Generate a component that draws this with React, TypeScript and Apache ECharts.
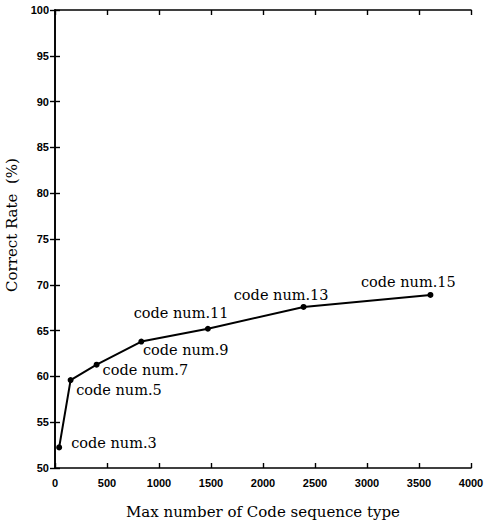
import React, { useEffect, useRef } from "react";
import * as echarts from "echarts";

const codeLabels = ["code num.3", "code num.5", "code num.7", "code num.9", "code num.11", "code num.13", "code num.15"];
const xValues = [40, 150, 400, 830, 1470, 2390, 3610];
const yValues = [52.25, 59.6, 61.28, 63.8, 65.2, 67.58, 68.89];
const xTicks = { min: 0, max: 4000, interval: 500 };
const yTicks = { min: 50, max: 100, interval: 5 };

// label placement relative to each point's symbol box (layout, not data)
const labelLayout: { pos: [number, number]; align: string }[] = [
  { pos: [15, -1], align: "left" },
  { pos: [8.6, 13.4], align: "left" },
  { pos: [9, 8.7], align: "left" },
  { pos: [4.6, 11], align: "left" },
  { pos: [-23.8, -12.7], align: "center" },
  { pos: [-19.4, -9.3], align: "center" },
  { pos: [-19.1, -9.6], align: "center" },
];

const serif = "DejaVu Serif";
const sans = "Liberation Sans";

export default function App() {
  const ref = useRef<HTMLDivElement>(null);
  useEffect(() => {
    if (!ref.current) return;
    const chart = echarts.init(ref.current, null, { renderer: "svg" });
    const axisLine = { show: true, lineStyle: { color: "#000", width: 1.6 } };
    const axisTick = { show: true, inside: true, length: 5, lineStyle: { color: "#000", width: 1.4 } };
    const data = xValues.map((x, i) => ({
      value: [x, yValues[i]],
      label: {
        show: true,
        formatter: codeLabels[i],
        position: labelLayout[i].pos,
        align: labelLayout[i].align,
        verticalAlign: "middle",
        fontFamily: serif,
        fontSize: 14.5,
        color: "#000",
      },
    }));
    chart.setOption({
      animation: false,
      backgroundColor: "#fff",
      grid: { left: 55, right: 14, top: 10, bottom: 55, containLabel: false, outerBoundsMode: "none" },
      xAxis: [
        {
          type: "value",
          ...xTicks,
          name: "Max number of Code sequence type",
          nameLocation: "middle",
          nameGap: 36,
          nameTextStyle: { fontFamily: serif, fontSize: 15, color: "#000" },
          axisLine,
          axisTick,
          splitLine: { show: false },
          axisLabel: {
            fontFamily: sans,
            fontWeight: "bold",
            fontSize: 11,
            color: "#000",
            margin: 9,
            formatter: (v: number) => String(v),
          },
        },
        {
          type: "value",
          ...xTicks,
          position: "top",
          axisLine,
          axisTick,
          splitLine: { show: false },
          axisLabel: { show: false },
        },
      ],
      yAxis: [
        {
          type: "value",
          ...yTicks,
          name: "Correct Rate  (%)",
          nameLocation: "middle",
          nameGap: 28,
          nameTextStyle: { fontFamily: serif, fontSize: 15, color: "#000", padding: [0, 0, 0, 28] },
          axisLine,
          axisTick,
          splitLine: { show: false },
          axisLabel: {
            fontFamily: sans,
            fontWeight: "bold",
            fontSize: 11,
            color: "#000",
            margin: 6,
            formatter: (v: number) => String(v),
          },
        },
        {
          type: "value",
          ...yTicks,
          position: "right",
          axisLine,
          axisTick,
          splitLine: { show: false },
          axisLabel: { show: false },
        },
      ],
      series: [
        {
          type: "line",
          data,
          symbol: "circle",
          symbolSize: 6,
          itemStyle: { color: "#000" },
          lineStyle: { color: "#000", width: 2 },
        },
      ],
    });
    return () => chart.dispose();
  }, []);
  return <div ref={ref} style={{ position: "fixed", left: 0, top: 0, width: 485, height: 523 }} />;
}
